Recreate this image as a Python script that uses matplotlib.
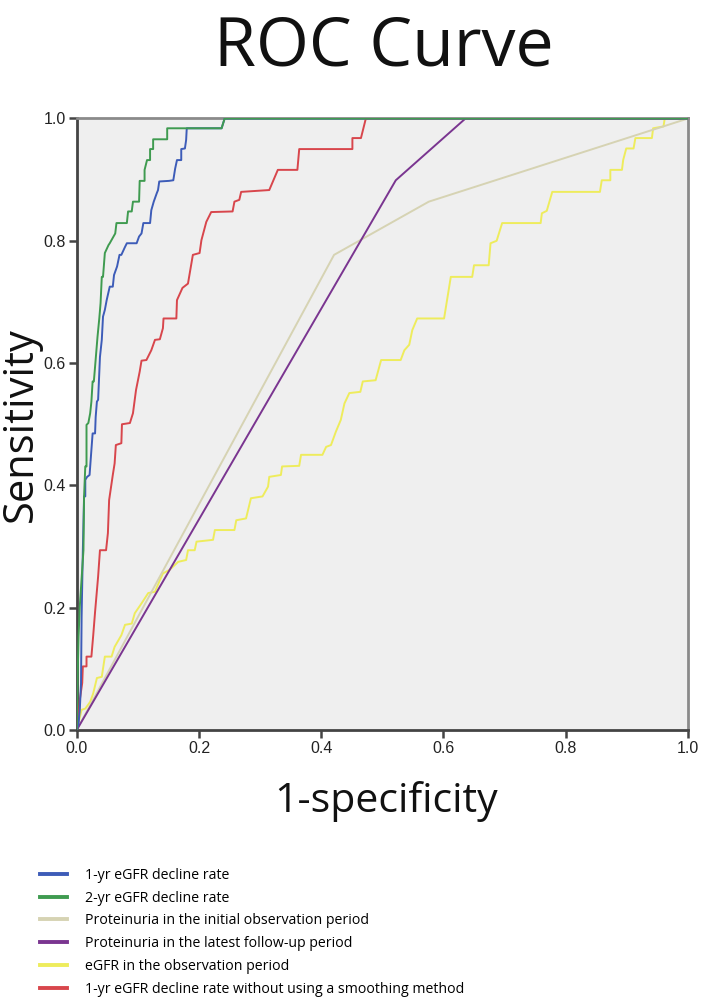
import matplotlib
matplotlib.use('Agg')
import matplotlib.pyplot as plt

# ROC curves: (1-specificity, sensitivity)
yr1_fpr = [0, 0.003, 0.005, 0.007, 0.008, 0.010, 0.012, 0.014, 0.014, 0.017, 0.021, 0.024,
           0.026, 0.030, 0.031, 0.033, 0.035, 0.038, 0.041, 0.043, 0.046, 0.049, 0.054,
           0.059, 0.061, 0.066, 0.070, 0.073, 0.079, 0.082, 0.098, 0.102, 0.106, 0.109,
           0.120, 0.122, 0.126, 0.131, 0.133, 0.135, 0.151, 0.158, 0.161, 0.164, 0.171,
           0.171, 0.177, 0.179, 0.180, 0.237, 0.242, 1.0]
yr1_tpr = [0, 0.011, 0.033, 0.076, 0.185, 0.294, 0.382, 0.382, 0.409, 0.414, 0.417, 0.458,
           0.485, 0.485, 0.512, 0.537, 0.540, 0.610, 0.638, 0.676, 0.687, 0.703, 0.725,
           0.725, 0.744, 0.758, 0.777, 0.777, 0.790, 0.796, 0.796, 0.807, 0.812, 0.829,
           0.829, 0.850, 0.864, 0.878, 0.883, 0.897, 0.898, 0.899, 0.918, 0.932, 0.932,
           0.950, 0.951, 0.965, 0.984, 0.984, 1.0, 1.0]

yr2_fpr = [0, 0.001, 0.003, 0.005, 0.011, 0.012, 0.014, 0.016, 0.016, 0.019, 0.022, 0.024,
           0.026, 0.028, 0.030, 0.034, 0.037, 0.039, 0.041, 0.043, 0.046, 0.052, 0.054,
           0.063, 0.065, 0.082, 0.084, 0.090, 0.092, 0.102, 0.103, 0.111, 0.111, 0.115,
           0.120, 0.120, 0.125, 0.125, 0.148, 0.148, 0.237, 0.242, 1.0]
yr2_tpr = [0, 0.065, 0.153, 0.202, 0.294, 0.382, 0.431, 0.431, 0.499, 0.502, 0.518, 0.537,
           0.570, 0.570, 0.594, 0.643, 0.674, 0.698, 0.741, 0.741, 0.780, 0.793, 0.796,
           0.812, 0.829, 0.829, 0.848, 0.848, 0.864, 0.864, 0.898, 0.898, 0.916, 0.932,
           0.932, 0.950, 0.950, 0.966, 0.966, 0.984, 0.984, 1.0, 1.0]

prot_init_fpr = [0, 0.421, 0.576, 1.0]
prot_init_tpr = [0, 0.777, 0.864, 1.0]

prot_last_fpr = [0, 0.522, 0.636, 1.0]
prot_last_tpr = [0, 0.899, 1.0, 1.0]

egfr_fpr = [0, 0.008, 0.014, 0.022, 0.027, 0.033, 0.041, 0.046, 0.057, 0.062, 0.073, 0.079,
            0.090, 0.095, 0.106, 0.117, 0.128, 0.136, 0.141, 0.152, 0.166, 0.179, 0.182,
            0.193, 0.196, 0.223, 0.226, 0.258, 0.261, 0.277, 0.285, 0.304, 0.313, 0.315,
            0.334, 0.336, 0.364, 0.367, 0.402, 0.408, 0.416, 0.424, 0.432, 0.438, 0.446,
            0.464, 0.468, 0.489, 0.498, 0.530, 0.536, 0.544, 0.549, 0.557, 0.601, 0.612,
            0.647, 0.650, 0.674, 0.677, 0.687, 0.696, 0.759, 0.761, 0.769, 0.778, 0.856,
            0.859, 0.873, 0.873, 0.892, 0.894, 0.899, 0.911, 0.914, 0.941, 0.943, 0.960,
            0.962, 1.0]
egfr_tpr = [0, 0.033, 0.035, 0.046, 0.060, 0.085, 0.087, 0.120, 0.120, 0.136, 0.155, 0.172,
            0.174, 0.191, 0.207, 0.224, 0.226, 0.245, 0.256, 0.262, 0.275, 0.278, 0.294,
            0.294, 0.308, 0.311, 0.327, 0.327, 0.343, 0.346, 0.379, 0.382, 0.398, 0.414,
            0.417, 0.431, 0.432, 0.450, 0.450, 0.463, 0.466, 0.488, 0.507, 0.534, 0.551,
            0.553, 0.570, 0.572, 0.605, 0.605, 0.621, 0.630, 0.654, 0.673, 0.673, 0.741,
            0.741, 0.760, 0.760, 0.796, 0.800, 0.829, 0.829, 0.845, 0.849, 0.880, 0.880,
            0.899, 0.899, 0.916, 0.916, 0.932, 0.951, 0.951, 0.968, 0.968, 0.984, 0.987,
            1.0, 1.0]

raw_fpr = [0, 0.003, 0.005, 0.009, 0.010, 0.016, 0.016, 0.024, 0.027, 0.030, 0.035, 0.038,
           0.048, 0.051, 0.053, 0.059, 0.062, 0.064, 0.073, 0.074, 0.087, 0.092, 0.097,
           0.103, 0.106, 0.114, 0.122, 0.128, 0.136, 0.141, 0.142, 0.163, 0.164, 0.173,
           0.182, 0.190, 0.201, 0.204, 0.212, 0.220, 0.255, 0.258, 0.266, 0.269, 0.315,
           0.329, 0.361, 0.364, 0.451, 0.451, 0.465, 0.473, 1.0]
raw_tpr = [0, 0.016, 0.049, 0.077, 0.104, 0.104, 0.120, 0.120, 0.155, 0.193, 0.251, 0.294,
           0.294, 0.322, 0.376, 0.417, 0.436, 0.466, 0.469, 0.500, 0.502, 0.518, 0.556,
           0.586, 0.604, 0.605, 0.621, 0.638, 0.639, 0.657, 0.673, 0.673, 0.703, 0.723,
           0.730, 0.777, 0.780, 0.801, 0.831, 0.847, 0.848, 0.864, 0.867, 0.880, 0.883,
           0.916, 0.916, 0.950, 0.950, 0.968, 0.968, 1.0, 1.0]

labels = ['1-yr eGFR decline rate',
          '2-yr eGFR decline rate',
          'Proteinuria in the initial observation period',
          'Proteinuria in the latest follow-up period',
          'eGFR in the observation period',
          '1-yr eGFR decline rate without using a smoothing method']
colors = ['#3d5cb8', '#3f9b50', '#d6d3b3', '#7a3590', '#eeec5c', '#d8464c']
tick_vals = [0, 0.2, 0.4, 0.6, 0.8, 1.0]
tick_text = ['0.0', '0.2', '0.4', '0.6', '0.8', '1.0']

curves = [(yr1_fpr, yr1_tpr), (yr2_fpr, yr2_tpr), (prot_init_fpr, prot_init_tpr),
          (prot_last_fpr, prot_last_tpr), (egfr_fpr, egfr_tpr), (raw_fpr, raw_tpr)]

fig = plt.figure(figsize=(7.02, 10), dpi=100)
ax = fig.add_axes([0.1093, 0.27, 0.8707, 0.6115])
ax.set_facecolor('#efefef')

# draw order so blue/green end up on top like the original
order = [4, 2, 3, 5, 0, 1]
for i in order:
    fpr, tpr = curves[i]
    ax.plot(fpr, tpr, color=colors[i], lw=1.4, label=labels[i], zorder=2 + order.index(i))

ax.set_xlim(0, 1)
ax.set_ylim(0, 1)
ax.set_xticks(tick_vals)
ax.set_yticks(tick_vals)
ax.set_xticklabels(tick_text, family='Liberation Sans')
ax.set_yticklabels(tick_text, family='Liberation Sans')
ax.tick_params(direction='out', length=6, width=1.8, color='#444444',
               labelsize=11.5, labelcolor='#222222', pad=2)
for side in ['left', 'bottom']:
    ax.spines[side].set_color('#444444')
    ax.spines[side].set_linewidth(2)
for side in ['top', 'right']:
    ax.spines[side].set_color('#8a8a8a')
    ax.spines[side].set_linewidth(2)

fig.text(0.547, 0.952, 'ROC Curve', ha='center', va='center', fontsize=49,
         family='Open Sans', color='#111111')
fig.text(0.5506, 0.199, '1-specificity', ha='center', va='center', fontsize=29.5,
         family='Open Sans', color='#111111')
fig.text(0.030, 0.575, 'Sensitivity', ha='center', va='center', rotation=90,
         fontsize=30, family='Open Sans', color='#111111')

handles, labs = ax.get_legend_handles_labels()
hmap = dict(zip(labs, handles))
leg = fig.legend([hmap[l] for l in labels], labels, loc='upper left',
                 bbox_to_anchor=(0.039, 0.145), frameon=False,
                 handlelength=1.9, handletextpad=1.3, labelspacing=0.55,
                 prop={'family': 'Open Sans', 'size': 10.2})
for line in leg.get_lines():
    line.set_linewidth(2.8)

fig.savefig('out.png', dpi=100, facecolor='white')
